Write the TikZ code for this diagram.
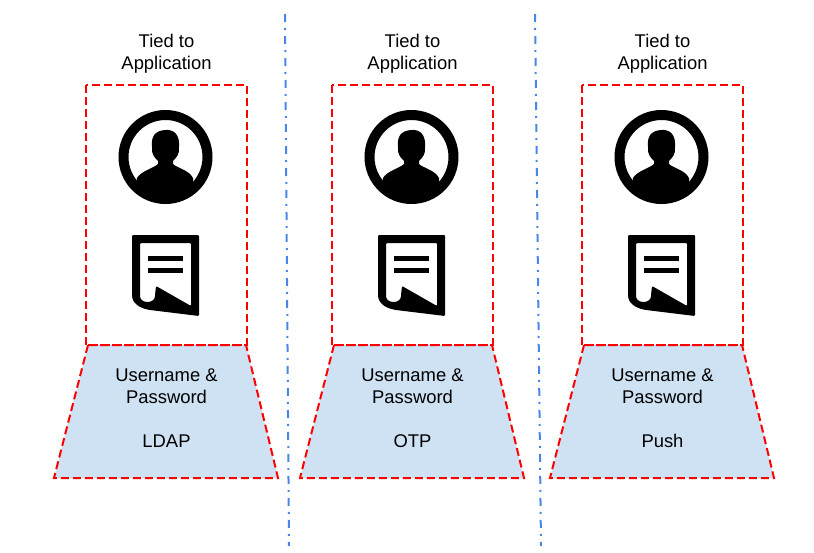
\documentclass[tikz,border=0pt]{standalone}
\usepackage{fontspec}
\setmainfont{Liberation Sans}
\definecolor{divblue}{HTML}{4A86E8}
\definecolor{boxred}{HTML}{FF0000}
\definecolor{authfill}{HTML}{CFE2F3}

\begin{document}
\begin{tikzpicture}
                [
                x=1pt,y=-1pt,
                label/.style={align=center,inner sep=0pt,font=\fontsize{18.4}{22}\selectfont},
                frame/.style={boxred,line width=2pt,dash pattern=on 8pt off 4pt},
                divider/.style={divblue,line width=2pt,dash pattern=on 8pt off 6pt on 2pt off 6pt}
                ]
            \useasboundingbox (0,0) rectangle (814,552);
            \coordinate (d1a) at (285,14);
            \coordinate (d1b) at (289,546);
            \coordinate (d2a) at (535,14);
            \coordinate (d2b) at (541,546);
            \draw[divider] (d1a) -- (d1b);
            \draw[divider] (d2a) -- (d2b);
            \foreach \xs/\method in {0/LDAP,246/OTP,496/Push}{
            \begin{scope}[xshift=\xs pt]
            \fill[authfill] (88,345) -- (246,345) -- (278,478) -- (54,478) -- cycle;
            \draw[frame] (86,85) rectangle (247,345);
            \draw[frame] (88,345) -- (246,345) -- (278,478) -- (54,478) -- cycle;
            % user
            \draw[line width=10pt] (165.5,157) circle (42);
            \begin{scope}
            \clip (165.5,157) circle (42);
            \fill (152,147) .. controls (151,136) and (155,131) .. (165,130)
                .. controls (175,129) and (180,136) .. (179,147)
                .. controls (180,154) and (176,158) .. (173,161)
                -- (173,164) .. controls (177,168) and (189,170) .. (193,178)
                -- (195,205) -- (136,205) -- (137,178)
                .. controls (141,171) and (154,168) .. (158,164)
                -- (158,161) .. controls (155,158) and (151,154) .. (152,147) -- cycle;
            \end{scope}
            % document
            \fill[even odd rule,line join=round,rounded corners=1pt] (132,235) -- (199,235) -- (199,316) -- (150,310)
                .. controls (139,308) and (132,303) .. (132,294) -- cycle
                (140,243) -- (140,295) .. controls (140,304) and (155,304) .. (155,295)
                -- (156,286) -- (191,306) -- (191,243) -- cycle;
            \fill (148,255.5) rectangle (183,260.5);
            \fill (148,267.5) rectangle (183,272.5);
            \node[label] (title\xs) at (166.5,54) {Tied to\\Application};
            \node[label] (cred\xs) at (166.5,386) {Username \&\\Password};
            \node[label] (method\xs) at (166.5,441) {\method};
            \end{scope}
            }
            \end{tikzpicture}
\end{document}
